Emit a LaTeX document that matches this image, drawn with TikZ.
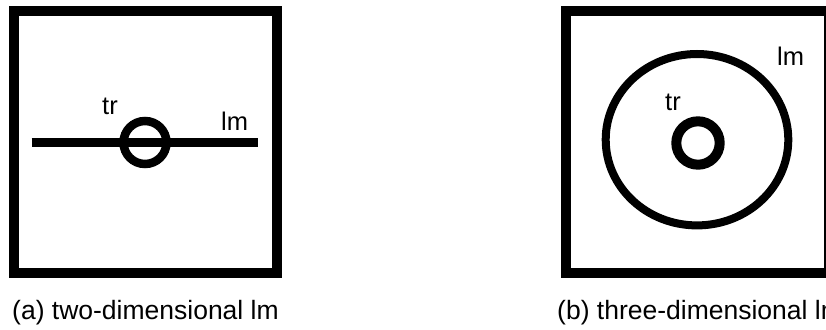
\documentclass[tikz,border=0pt]{standalone}
\usepackage{fontspec}
\setmainfont{Liberation Sans}
\begin{document}
\begin{tikzpicture}[x=1pt,y=-1pt,
  frame/.style={line width=10pt},
  lbl/.style={inner sep=0pt,anchor=base west,font=\fontsize{25.5}{30}\selectfont},
  captext/.style={inner sep=0pt,anchor=base west,font=\fontsize{26.5}{30}\selectfont}]
\useasboundingbox (0,0) rectangle (826,329);
\clip (0,0) rectangle (826,329);
% panel (a)
\draw[frame] (14,11) rectangle (277,273);
\coordinate (la) at (31.7,142);
\coordinate (lb) at (258.3,142);
\draw[line width=9pt] (la) -- (lb);
\draw[line width=8.5pt] (145,142.5) circle[radius=21.5];
\node[lbl] (tra) at (102,114) {tr};
\node[lbl] (lma) at (221,130) {lm};
\node[captext] (capa) at (12,319) {(a) two-dimensional lm};
% panel (b)
\draw[frame] (566,11) rectangle (829,273);
\draw[line width=8pt] (697,139.7) ellipse[x radius=91.3,y radius=85.7];
\draw[line width=10pt] (698,143) circle[radius=21.7];
\node[lbl] (trb) at (665,110) {tr};
\node[lbl] (lmb) at (777,66) {lm};
\node[captext] (capb) at (557,319) {(b) three-dimensional lm};
\end{tikzpicture}
\end{document}
